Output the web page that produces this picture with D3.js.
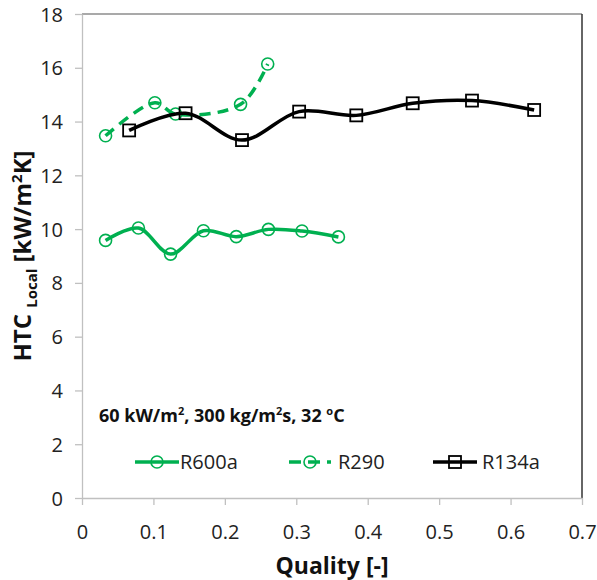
<!DOCTYPE html>
<html>
<head>
<meta charset="utf-8">
<script src="https://cdn.jsdelivr.net/npm/d3@7"></script>
<style>
  body { margin: 0; background: #fff; }
  text { font-family: "Open Sans", "Liberation Sans", sans-serif; }
</style>
</head>
<body>
<script>
// refrigerants shown in the legend
var seriesNames = ['R600a', 'R290', 'R134a'];

// local heat transfer coefficient [kW/m2K] vs vapour quality
var r600aQuality = [0.033, 0.079, 0.124, 0.170, 0.216, 0.261, 0.308, 0.359];
var r600aHtc     = [9.58, 10.04, 9.07, 9.94, 9.72, 9.99, 9.93, 9.71];

var r290Quality = [0.033, 0.102, 0.131, 0.222, 0.260];
var r290Htc     = [13.47, 14.70, 14.28, 14.64, 16.14];

var r134aQuality = [0.066, 0.145, 0.224, 0.304, 0.384, 0.463, 0.546, 0.633];
var r134aHtc     = [13.67, 14.31, 13.31, 14.37, 14.23, 14.68, 14.78, 14.43];

var xTicks = [0, 0.1, 0.2, 0.3, 0.4, 0.5, 0.6, 0.7];
var yTicks = [0, 2, 4, 6, 8, 10, 12, 14, 16, 18];

var width = 597,
	height = 580;
var plot = {left: 82, right: 582, top: 14, bottom: 498};

var green = '#00b050';
var styles = {
	R600a: {color: green, dash: null, marker: 'circle'},
	R290: {color: green, dash: '11,7', marker: 'circle'},
	R134a: {color: '#000', dash: null, marker: 'square'}
};

var series = [
	{name: 'R600a', x: r600aQuality, y: r600aHtc},
	{name: 'R290', x: r290Quality, y: r290Htc},
	{name: 'R134a', x: r134aQuality, y: r134aHtc}
];

var svg = d3.select('body').append('svg')
	.attr('width', width)
	.attr('height', height);

var xScale = d3.scaleLinear().domain([0, 0.7]).range([plot.left, plot.right]);
var yScale = d3.scaleLinear().domain([0, 18]).range([plot.bottom, plot.top]);

// frame: top and right borders
svg.append('line')
	.attr('x1', plot.left).attr('x2', plot.right)
	.attr('y1', plot.top).attr('y2', plot.top)
	.attr('stroke', '#8c8c8c').attr('stroke-width', 1.5);
svg.append('line')
	.attr('x1', plot.right).attr('x2', plot.right)
	.attr('y1', plot.top).attr('y2', plot.bottom)
	.attr('stroke', '#333').attr('stroke-width', 1.5);

var xAxis = d3.axisBottom(xScale).tickValues(xTicks).tickSizeInner(7).tickSizeOuter(0)
	.tickFormat(d => d === 0 ? '0' : d3.format('.1f')(d));
var yAxis = d3.axisLeft(yScale).tickValues(yTicks).tickSizeInner(7).tickSizeOuter(0);

var gx = svg.append('g').attr('transform', `translate(0, ${plot.bottom})`).call(xAxis);
var gy = svg.append('g').attr('transform', `translate(${plot.left}, 0)`).call(yAxis);

[gx, gy].forEach(g => {
	g.select('.domain').attr('stroke', '#c0c0c0').attr('stroke-width', 1.3);
	g.selectAll('.tick line').attr('stroke', '#c0c0c0').attr('stroke-width', 1.3);
	g.selectAll('.tick text')
		.attr('fill', '#222')
		.style('font-size', '20px')
		.style('font-family', '"Open Sans", sans-serif');
});
gx.selectAll('.tick text').attr('dy', null).attr('y', 41);
gy.selectAll('.tick text').attr('x', -19).attr('dy', '0.35em');

// axis titles
svg.append('text')
	.attr('x', (plot.left + plot.right) / 2)
	.attr('y', 574)
	.attr('text-anchor', 'middle')
	.style('font-size', '23px')
	.style('font-weight', 'bold')
	.attr('fill', '#111')
	.text('Quality [-]');

var yTitle = svg.append('text')
	.attr('transform', `translate(31, ${(plot.top + plot.bottom) / 2}) rotate(-90)`)
	.attr('text-anchor', 'middle')
	.style('font-size', '24px')
	.style('font-weight', 'bold')
	.attr('fill', '#111');
yTitle.append('tspan').text('HTC ');
yTitle.append('tspan').attr('dy', 6).style('font-size', '15px').text('Local');
yTitle.append('tspan').attr('dy', -6).text(' [kW/m');
yTitle.append('tspan').attr('dy', -9).style('font-size', '15px').text('2');
yTitle.append('tspan').attr('dy', 9).text('K]');

// lines
var line = d3.line()
	.x(d => xScale(d[0]))
	.y(d => yScale(d[1]))
	.curve(d3.curveCatmullRom.alpha(0.5));

var plotG = svg.append('g');

series.forEach(s => {
	var st = styles[s.name];
	var pts = s.x.map((x, i) => [x, s.y[i]]);
	plotG.append('path')
		.datum(pts)
		.attr('d', line)
		.attr('fill', 'none')
		.attr('stroke', st.color)
		.attr('stroke-width', 3.5)
		.attr('stroke-dasharray', st.dash);
	drawMarkers(plotG, pts.map(p => [xScale(p[0]), yScale(p[1])]), st);
});

function drawMarkers(g, pts, st) {
	if (st.marker === 'circle') {
		g.selectAll(null).data(pts).enter().append('circle')
			.attr('cx', d => d[0]).attr('cy', d => d[1])
			.attr('r', 6)
			.attr('fill', 'none')
			.attr('stroke', st.color)
			.attr('stroke-width', 1.6);
	} else {
		g.selectAll(null).data(pts).enter().append('rect')
			.attr('x', d => d[0] - 6).attr('y', d => d[1] - 6)
			.attr('width', 12).attr('height', 12)
			.attr('fill', 'none')
			.attr('stroke', st.color)
			.attr('stroke-width', 1.8);
	}
}

// condition label
var note = svg.append('text')
	.attr('x', 99)
	.attr('y', 422)
	.style('font-size', '18px')
	.style('font-weight', 'bold')
	.attr('fill', '#111');
note.append('tspan').text('60 kW/m');
note.append('tspan').attr('dy', -7).style('font-size', '11px').text('2');
note.append('tspan').attr('dy', 7).text(', 300 kg/m');
note.append('tspan').attr('dy', -7).style('font-size', '11px').text('2');
note.append('tspan').attr('dy', 7).text('s, 32 ');
note.append('tspan').attr('dy', -7).style('font-size', '11px').text('o');
note.append('tspan').attr('dy', 7).text('C');

// legend
var legendX = [135, 289, 433];
var legendTextX = [180, 338, 482];
var legend = svg.append('g');
seriesNames.forEach((name, i) => {
	var st = styles[name];
	var x0 = legendX[i], y0 = 462;
	var len = name === 'R290' ? 42 : 44;
	var g = legend.append('g');
	g.append('line')
		.attr('x1', x0).attr('x2', x0 + len)
		.attr('y1', y0).attr('y2', y0)
		.attr('stroke', st.color)
		.attr('stroke-width', 3.5)
		.attr('stroke-dasharray', st.dash ? '12,7' : null);
	drawMarkers(g, [[x0 + len / 2, y0]], st);
	g.append('text')
		.attr('x', legendTextX[i])
		.attr('y', y0 + 7)
		.style('font-size', '20px')
		.attr('fill', '#222')
		.text(name);
});
</script>
</body>
</html>
